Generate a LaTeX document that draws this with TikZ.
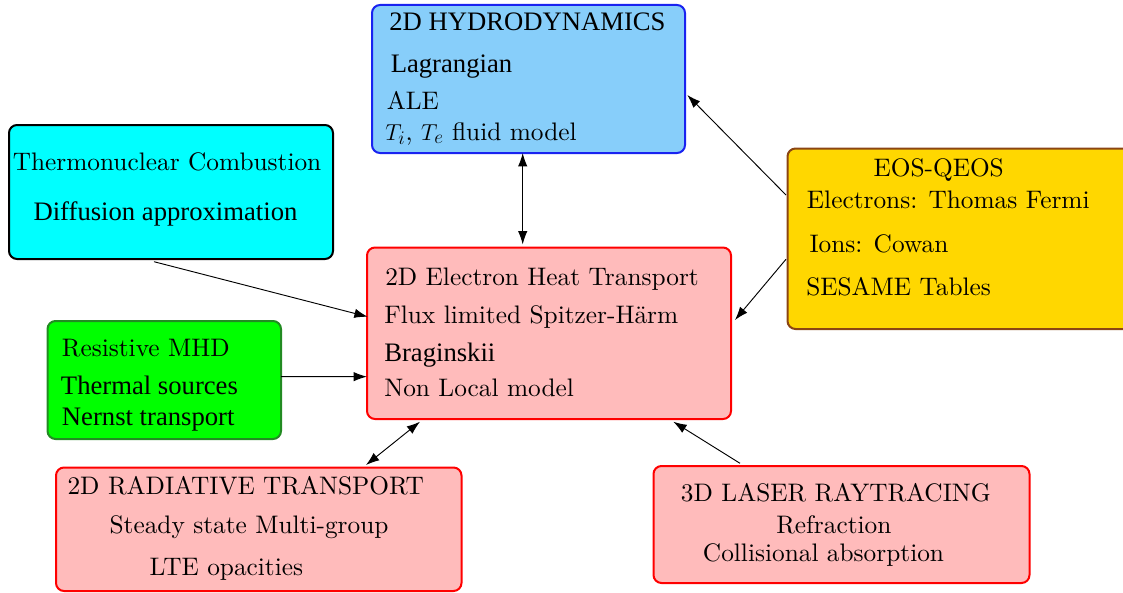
\documentclass[tikz,border=0pt]{standalone}
\usepackage{fontspec}
\setmainfont{lmroman10-regular.otf}
\newfontfamily\tms{Liberation Serif}
\usetikzlibrary{arrows.meta,calc}

\definecolor{hydrofill}{RGB}{135,206,250}
\definecolor{hydroline}{RGB}{25,35,240}
\definecolor{thermofill}{RGB}{0,255,255}
\definecolor{heatfill}{RGB}{255,187,187}
\definecolor{eosfill}{RGB}{255,215,0}
\definecolor{eosline}{RGB}{139,69,19}
\definecolor{mhdfill}{RGB}{0,255,0}
\definecolor{mhdline}{RGB}{34,139,34}

\begin{document}
\begin{tikzpicture}[x=0.75pt,y=-0.75pt,
  box/.style={draw, line width=1.5pt, rounded corners=6pt, inner sep=0pt, outer sep=0pt},
  lmtxt/.style={anchor=base west, inner sep=0pt, font=\fontsize{19}{23}\selectfont},
  tmtxt/.style={anchor=base west, inner sep=0pt, font=\tms\fontsize{20}{24}\selectfont},
  link/.style={line width=0.7pt, -{Latex[length=10pt,width=7pt]}},
  dlink/.style={line width=0.7pt, {Latex[length=10pt,width=7pt]}-{Latex[length=10pt,width=7pt]}}]
\useasboundingbox (0,0) rectangle (1123,592);

% module boxes
\node[box, draw=hydroline, fill=hydrofill, minimum width=0.75pt*313, minimum height=0.75pt*148] (hydro) at (528.5,79) {};
\node[box, draw=black, fill=thermofill, minimum width=0.75pt*324, minimum height=0.75pt*134] (thermo) at (171,192) {};
\node[box, draw=red, fill=heatfill, minimum width=0.75pt*364, minimum height=0.75pt*171.5] (heat) at (549,333.25) {};
\node[box, draw=eosline, fill=eosfill, minimum width=0.75pt*352.5, minimum height=0.75pt*180.5] (eos) at (963.75,238.75) {};
\node[box, draw=mhdline, fill=mhdfill, minimum width=0.75pt*233.5, minimum height=0.75pt*118] (mhd) at (164.25,380) {};
\node[box, draw=red, fill=heatfill, minimum width=0.75pt*405.5, minimum height=0.75pt*123.5] (rad) at (258.75,529.25) {};
\node[box, draw=red, fill=heatfill, minimum width=0.75pt*376, minimum height=0.75pt*117] (laser) at (841.5,524.5) {};

% hydrodynamics
\node[tmtxt] (h1) at (389,30.7) {2D HYDRODYNAMICS};
\node[tmtxt] (h2) at (390.5,72.5) {Lagrangian};
\node[lmtxt] (h3) at (386.5,109) {ALE};
\node[lmtxt] (h4) at (385,140) {$T_i$, $T_e$ fluid model};

% thermonuclear combustion
\node[lmtxt] (t1) at (12.5,170) {Thermonuclear Combustion};
\node[tmtxt] (t2) at (33.3,220) {Diffusion approximation};

% electron heat transport
\node[lmtxt] (e1) at (385,285) {2D Electron Heat Transport};
\node[lmtxt] (e2) at (384,323.3) {Flux limited Spitzer-Härm};
\node[tmtxt] (e3) at (384,361.7) {Braginskii};
\node[lmtxt] (e4) at (384,396.7) {Non Local model};

% equation of state
\node[lmtxt] (q1) at (873.3,176) {EOS-QEOS};
\node[lmtxt] (q2) at (806.7,208.3) {Electrons: Thomas Fermi};
\node[lmtxt] (q3) at (809.3,252.7) {Ions: Cowan};
\node[lmtxt] (q4) at (806,295) {SESAME Tables};

% resistive MHD
\node[lmtxt] (m1) at (61.7,356.7) {Resistive MHD};
\node[tmtxt] (m2) at (60.7,394) {Thermal sources};
\node[tmtxt] (m3) at (61.7,425) {Nernst transport};

% radiative transport
\node[lmtxt] (r1) at (67.3,494) {2D RADIATIVE TRANSPORT};
\node[lmtxt] (r2) at (109.3,533.3) {Steady state Multi-group};
\node[lmtxt] (r3) at (149.3,575) {LTE opacities};

% laser raytracing
\node[lmtxt] (l1) at (680.7,501.7) {3D LASER RAYTRACING};
\node[lmtxt] (l2) at (776,533.3) {Refraction};
\node[lmtxt] (l3) at (702.7,561.7) {Collisional absorption};

% couplings
\draw[dlink] ($(hydro.south)+(-5.8,0)$) -- ($(heat.north)+(-26.3,-3)$);
\draw[link] ($(eos.west)+(-1.5,-43.75)$) -- ($(hydro.east)+(2.3,16)$);
\draw[link] ($(eos.west)+(-1.5,20.5)$) -- ($(heat.east)+(4,-13.25)$);
\draw[link] ($(thermo.south)+(-17,2.7)$) -- ($(heat.west)+(0.7,-16.5)$);
\draw[link] ($(mhd.east)+(0,-3.3)$) -- ($(heat.west)+(0,43.4)$);
\draw[dlink] ($(rad.north)+(107.25,-2.5)$) -- ($(heat.south)+(-129,2.7)$);
\draw[link] ($(laser.north)+(-101.5,-2.7)$) -- ($(heat.south)+(124.3,2.7)$);
\end{tikzpicture}
\end{document}
